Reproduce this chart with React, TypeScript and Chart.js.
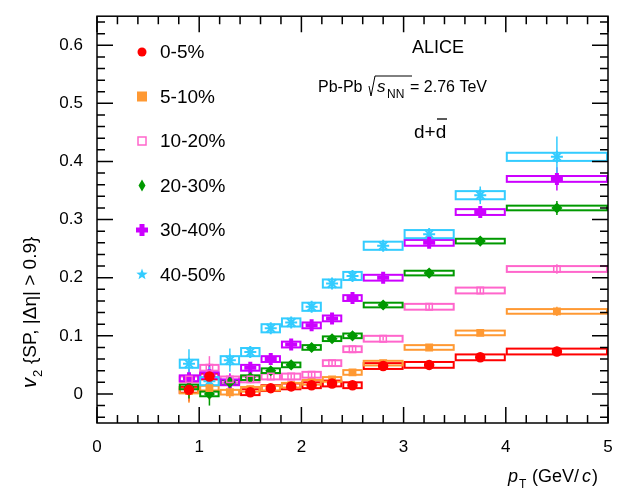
import React, { useEffect, useRef } from "react";
import Chart from "chart.js/auto";

const ptBins = [0.9, 1.1, 1.3, 1.5, 1.7, 1.9, 2.1, 2.3, 2.5, 2.8, 3.25, 3.75, 4.5];
const binLow = [0.8, 1.0, 1.2, 1.4, 1.6, 1.8, 2.0, 2.2, 2.4, 2.6, 3.0, 3.5, 4.0];
const binHigh = [1.0, 1.2, 1.4, 1.6, 1.8, 2.0, 2.2, 2.4, 2.6, 3.0, 3.5, 4.0, 5.0];
const yTickValues = [0, 0.1, 0.2, 0.3, 0.4, 0.5, 0.6];

const labels = ["0-5%", "5-10%", "10-20%", "20-30%", "30-40%", "40-50%"];
const colors = ["#ff0000", "#ff9933", "#ff66cc", "#009900", "#cc00ff", "#33ccff"];
const styles = ["circle", "rect", "rect", "rectRot", "cross", "star"];

const v2_0_5 = [0.007, 0.03, null, 0.003, 0.01, 0.013, 0.015, 0.018, 0.015, 0.048, 0.05, 0.063, 0.073];
const v2_5_10 = [0.005, 0.01, 0.003, 0.008, 0.01, 0.015, 0.02, 0.025, 0.037, 0.053, 0.08, 0.105, 0.142];
const v2_10_20 = [0.025, 0.045, 0.025, 0.025, 0.03, 0.03, 0.033, 0.053, 0.077, 0.095, 0.15, 0.178, 0.215];
const v2_20_30 = [0.012, 0.0, 0.02, 0.028, 0.04, 0.05, 0.08, 0.095, 0.1, 0.153, 0.208, 0.263, 0.32];
const v2_30_40 = [0.027, 0.032, 0.02, 0.045, 0.06, 0.085, 0.118, 0.13, 0.165, 0.2, 0.26, 0.313, 0.37];
const v2_40_50 = [0.052, 0.022, 0.058, 0.072, 0.113, 0.123, 0.15, 0.19, 0.203, 0.255, 0.275, 0.342, 0.408];
const series = [v2_0_5, v2_5_10, v2_10_20, v2_20_30, v2_30_40, v2_40_50];

const statErr = [
  [0.02, 0.02, 0, 0.006, 0.005, 0.004, 0.004, 0.004, 0.004, 0.003, 0.004, 0.005, 0.008],
  [0.02, 0.02, 0.01, 0.006, 0.005, 0.004, 0.004, 0.004, 0.004, 0.003, 0.004, 0.005, 0.008],
  [0.02, 0.02, 0.01, 0.006, 0.005, 0.004, 0.004, 0.004, 0.004, 0.003, 0.004, 0.005, 0.008],
  [0.02, 0.02, 0.01, 0.006, 0.005, 0.004, 0.004, 0.004, 0.004, 0.004, 0.005, 0.007, 0.012],
  [0.02, 0.02, 0.015, 0.008, 0.006, 0.005, 0.005, 0.005, 0.005, 0.005, 0.007, 0.01, 0.02],
  [0.025, 0.025, 0.02, 0.01, 0.008, 0.007, 0.007, 0.007, 0.008, 0.008, 0.01, 0.015, 0.035],
];
const systErr = [0.005, 0.004, 0.005, 0.004, 0.005, 0.007];

const FONT = "'Liberation Sans', Arial, sans-serif";

const drawPlugin = {
  id: "aliceDecor",
  beforeDatasetsDraw(chart: any) {
    const { ctx, scales } = chart;
    const x = scales.x, y = scales.y;
    ctx.save();
    series.forEach((s, i) => {
      ctx.strokeStyle = colors[i];
      s.forEach((v, j) => {
        if (v === null) return;
        const x0 = x.getPixelForValue(binLow[j]) + 1;
        const x1 = x.getPixelForValue(binHigh[j]) - 1;
        const yt = y.getPixelForValue(v + systErr[i]);
        const yb = y.getPixelForValue(v - systErr[i]);
        ctx.lineWidth = 2;
        ctx.strokeRect(x0, yt, x1 - x0, yb - yt);
        ctx.lineWidth = 1.5;
        const xc = x.getPixelForValue(ptBins[j]);
        ctx.beginPath();
        ctx.moveTo(xc, y.getPixelForValue(v + statErr[i][j]));
        ctx.lineTo(xc, y.getPixelForValue(v - statErr[i][j]));
        ctx.stroke();
      });
    });
    ctx.restore();
  },
  afterDraw(chart: any) {
    const { ctx, chartArea: a, scales } = chart;
    const x = scales.x, y = scales.y;
    ctx.save();
    ctx.strokeStyle = "#000";
    ctx.lineWidth = 1.5;
    ctx.strokeRect(a.left, a.top, a.right - a.left, a.bottom - a.top);
    ctx.beginPath();
    for (let k = 0; k <= 25; k++) {
      const px = x.getPixelForValue(k * 0.2);
      const len = k % 5 === 0 ? 16 : 8;
      ctx.moveTo(px, a.bottom); ctx.lineTo(px, a.bottom - len);
      ctx.moveTo(px, a.top); ctx.lineTo(px, a.top + len);
    }
    for (let k = -2; k <= 32; k++) {
      const py = y.getPixelForValue(k * 0.02);
      if (py < a.top || py > a.bottom) continue;
      const len = k % 5 === 0 ? 16 : 8;
      ctx.moveTo(a.left, py); ctx.lineTo(a.left + len, py);
      ctx.moveTo(a.right, py); ctx.lineTo(a.right - len, py);
    }
    ctx.stroke();

    // legend
    ctx.textBaseline = "middle";
    labels.forEach((l, i) => {
      const ly = 52 + i * 44.5;
      const lx = 142;
      ctx.fillStyle = colors[i];
      ctx.strokeStyle = colors[i];
      ctx.lineWidth = 1.5;
      if (i === 0) { ctx.beginPath(); ctx.arc(lx, ly, 4.5, 0, Math.PI * 2); ctx.fill(); }
      if (i === 1) ctx.fillRect(lx - 5, ly - 5, 10, 10);
      if (i === 2) ctx.strokeRect(lx - 4, ly - 4, 8, 8);
      if (i === 3) { ctx.beginPath(); ctx.moveTo(lx, ly - 6); ctx.lineTo(lx + 3.5, ly); ctx.lineTo(lx, ly + 6); ctx.lineTo(lx - 3.5, ly); ctx.fill(); }
      if (i === 4) { ctx.fillRect(lx - 6, ly - 2.5, 12, 5); ctx.fillRect(lx - 2.5, ly - 6, 5, 12); }
      if (i === 5) {
        ctx.beginPath();
        for (let k = 0; k < 10; k++) {
          const r = k % 2 === 0 ? 6 : 2.5;
          const ang = -Math.PI / 2 + (k * Math.PI) / 5;
          ctx.lineTo(lx + r * Math.cos(ang), ly + r * Math.sin(ang));
        }
        ctx.fill();
      }
      ctx.fillStyle = "#000";
      ctx.font = `19px ${FONT}`;
      ctx.textAlign = "left";
      ctx.fillText(l, 160, ly + 1);
    });

    // texts
    ctx.textBaseline = "alphabetic";
    ctx.fillStyle = "#000";
    ctx.strokeStyle = "#000";
    ctx.textAlign = "center";
    ctx.font = `18px ${FONT}`;
    ctx.fillText("ALICE", 438, 53);
    ctx.font = `16px ${FONT}`;
    ctx.textAlign = "left";
    ctx.fillText("Pb-Pb", 318, 92);
    ctx.beginPath();
    ctx.lineWidth = 1;
    ctx.moveTo(369, 86); ctx.lineTo(371, 96); ctx.lineTo(375, 76); ctx.lineTo(412, 76);
    ctx.stroke();
    ctx.font = `italic 17px ${FONT}`;
    ctx.fillText("s", 377, 92);
    ctx.font = `12px ${FONT}`;
    ctx.fillText("NN", 387, 98);
    ctx.font = `16px ${FONT}`;
    ctx.fillText("= 2.76 TeV", 410, 92);
    ctx.font = `19px ${FONT}`;
    ctx.fillText("d+d", 414, 138);
    ctx.lineWidth = 1.3;
    ctx.beginPath(); ctx.moveTo(437, 119); ctx.lineTo(447, 119); ctx.stroke();

    // x title
    ctx.font = `italic 18px ${FONT}`;
    ctx.fillText("p", 508, 482);
    ctx.font = `12px ${FONT}`;
    ctx.fillText("T", 519, 488);
    ctx.font = `18px ${FONT}`;
    ctx.fillText("(GeV/", 532, 482);
    ctx.font = `italic 18px ${FONT}`;
    ctx.fillText("c", 582, 482);
    ctx.font = `18px ${FONT}`;
    ctx.fillText(")", 592, 482);

    // y title
    ctx.translate(36, 200);
    ctx.rotate(-Math.PI / 2);
    ctx.font = `italic 20px ${FONT}`;
    ctx.fillText("v", -188, 0);
    ctx.font = `13px ${FONT}`;
    ctx.fillText("2", -177, 6);
    ctx.font = `19px ${FONT}`;
    ctx.fillText("{SP, |Δη| > 0.9}", -164, 0);
    ctx.restore();
  },
};

const App: React.FC = () => {
  const chartRef = useRef<HTMLCanvasElement>(null);
  const chartInstance = useRef<Chart>();

  useEffect(() => {
    if (!chartRef.current) return;
    const ctx = chartRef.current.getContext("2d");
    if (!ctx) return;
    chartInstance.current = new Chart(ctx, {
      type: "scatter",
      data: {
        datasets: series.map((s, i) => ({
          label: labels[i],
          data: s
            .map((v, j) => ({ x: ptBins[j], y: v }))
            .filter((p) => p.y !== null) as any,
          pointStyle: styles[i] as any,
          pointRadius: i === 5 ? 6 : i === 4 ? 6 : 4.5,
          pointBackgroundColor: i === 2 ? "rgba(255,255,255,0)" : colors[i],
          pointBorderColor: colors[i],
          pointBorderWidth: i === 4 ? 4 : i === 5 ? 2 : 1.5,
          showLine: false,
        })),
      },
      options: {
        animation: false,
        responsive: false,
        layout: { padding: { top: 13, right: 33, left: 0, bottom: 0 } },
        plugins: { legend: { display: false }, tooltip: { enabled: false } },
        scales: {
          x: {
            type: "linear",
            min: 0,
            max: 5,
            grid: { display: false },
            border: { display: false },
            ticks: { stepSize: 1, color: "#000", font: { size: 17, family: FONT }, padding: 6 },
            afterFit: (s: any) => { s.height = 72; },
          },
          y: {
            type: "linear",
            min: -0.05,
            max: 0.65,
            grid: { display: false },
            border: { display: false },
            afterBuildTicks: (s: any) => { s.ticks = yTickValues.map((value) => ({ value })); },
            ticks: {
              color: "#000",
              font: { size: 17, family: FONT },
              padding: 6,
              callback: (v: any) => (Number(v) === 0 ? "0" : Number(v).toFixed(1)),
            },
            afterFit: (s: any) => { s.width = 97; },
          },
        },
      },
      plugins: [drawPlugin],
    });
    return () => { chartInstance.current?.destroy(); };
  }, []);

  return (
    <div style={{ position: "fixed", left: 0, top: 0, width: 641, height: 495, background: "#fff" }}>
      <canvas ref={chartRef} width={641} height={495} />
    </div>
  );
};

export default App;
